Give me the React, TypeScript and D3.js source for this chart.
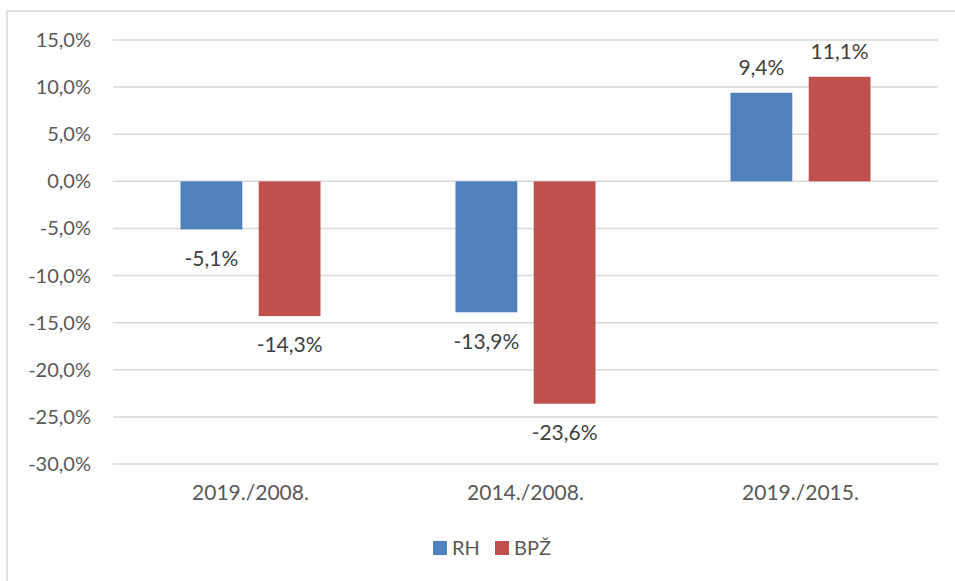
import React, { useEffect, useRef } from 'react'
import * as d3 from 'd3'

const categories = ['2019./2008.', '2014./2008.', '2019./2015.']
const seriesNames = ['RH', 'BPŽ']
const rhValues = [-5.1, -13.9, 9.4]
const bpzValues = [-14.3, -23.6, 11.1]
const yTicks = [15, 10, 5, 0, -5, -10, -15, -20, -25, -30]
const colors = ['#4f81bd', '#c0504d']

const fmt = (v: number) => v.toFixed(1).replace('.', ',') + '%'

export default function App() {
  const ref = useRef<SVGSVGElement>(null)

  useEffect(() => {
    const width = 955, height = 581
    const left = 113, right = 938, top = 40, bottom = 464
    const font = 'Lato, "Open Sans", sans-serif'
    const svg = d3.select(ref.current)
    svg.selectAll('*').remove()
    svg.attr('width', width).attr('height', height)

    svg.append('rect')
      .attr('x', 7).attr('y', 11)
      .attr('width', width).attr('height', height)
      .attr('fill', '#fff').attr('stroke', '#d9d9d9').attr('stroke-width', 1.5)

    const y = d3.scaleLinear().domain([-30, 15]).range([bottom, top])
    const x0 = d3.scaleBand().domain(categories).range([left, right])
    const x1 = d3.scaleBand().domain(seriesNames).range([67.5, x0.bandwidth() - 67.5]).paddingInner(0.21)

    // gridlines + y labels
    svg.append('g').selectAll('line').data(yTicks).enter().append('line')
      .attr('x1', left).attr('x2', right)
      .attr('y1', d => y(d)).attr('y2', d => y(d))
      .attr('stroke', '#d9d9d9').attr('stroke-width', 1.5)

    svg.append('g').selectAll('text').data(yTicks).enter().append('text')
      .attr('x', 91).attr('y', d => y(d))
      .attr('dy', '0.35em').attr('text-anchor', 'end')
      .attr('font-family', font).attr('font-size', 20).attr('fill', '#595959')
      .text(d => fmt(d))

    const rows = categories.map((c, i) => [
      { cat: c, s: seriesNames[0], v: rhValues[i], c: colors[0] },
      { cat: c, s: seriesNames[1], v: bpzValues[i], c: colors[1] },
    ]).flat()

    svg.append('g').selectAll('rect').data(rows).enter().append('rect')
      .attr('x', d => x0(d.cat)! + x1(d.s)!)
      .attr('width', x1.bandwidth())
      .attr('y', d => y(Math.max(0, d.v)))
      .attr('height', d => Math.abs(y(d.v) - y(0)))
      .attr('fill', d => d.c)

    svg.append('g').selectAll('text').data(rows).enter().append('text')
      .attr('x', d => x0(d.cat)! + x1(d.s)! + x1.bandwidth() / 2)
      .attr('y', d => d.v < 0 ? y(d.v) + 29 : y(d.v) - 25)
      .attr('dy', '0.35em').attr('text-anchor', 'middle')
      .attr('font-family', font).attr('font-size', 21).attr('fill', '#404040')
      .text(d => fmt(d.v))

    // x labels
    svg.append('g').selectAll('text').data(categories).enter().append('text')
      .attr('x', d => x0(d)! + x0.bandwidth() / 2)
      .attr('y', 493).attr('dy', '0.35em').attr('text-anchor', 'middle')
      .attr('font-family', font).attr('font-size', 21).attr('fill', '#595959')
      .text(d => d)

    // legend
    const legend = svg.append('g')
    const lx = [433, 495]
    seriesNames.forEach((n, i) => {
      legend.append('rect').attr('x', lx[i]).attr('y', 541)
        .attr('width', 14).attr('height', 14).attr('fill', colors[i])
      legend.append('text').attr('x', lx[i] + 19).attr('y', 548)
        .attr('dy', '0.35em')
        .attr('font-family', font).attr('font-size', 20).attr('fill', '#595959')
        .text(n)
    })
  }, [])

  return <svg ref={ref} style={{ position: 'absolute', left: 0, top: 0 }} />
}
